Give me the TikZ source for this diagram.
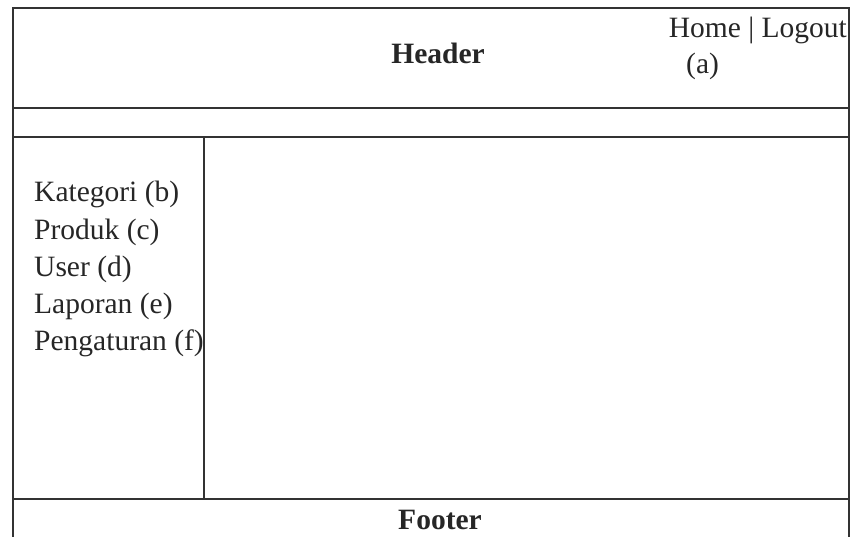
\documentclass[tikz,border=0pt]{standalone}
\usepackage{fontspec}
\setmainfont{Liberation Serif}
\begin{document}
\begin{tikzpicture}[x=1pt,y=-1pt,
  frame/.style={draw=black!80, line width=2pt},
  txt/.style={inner sep=0pt, font=\fontsize{29.5}{36}\selectfont, text=black!85},
  btxt/.style={txt, font=\fontsize{29.5}{36}\selectfont\bfseries}]
\useasboundingbox (0,0) rectangle (850,537);
\fill[white] (0,0) rectangle (850,537);
% outer frame and dividers
\coordinate (tl) at (13,8);
\coordinate (tr) at (849,8);
\coordinate (bl) at (13,537);
\coordinate (br) at (849,537);
\draw[frame] (bl) -- (tl) -- (tr) -- (br);
\draw[frame] (13,108) -- (849,108);
\draw[frame] (13,137) -- (849,137);
\draw[frame] (204,137) -- (204,499);
\draw[frame] (13,499) -- (849,499);
% header
\node[btxt, anchor=base] (header) at (438,64) {Header};
\node[txt, anchor=base east] (nav) at (847,38) {Home | Logout};
\node[txt, anchor=base west] (a) at (686,74) {(a)};
% menu
\node[txt, anchor=base west] (b) at (34,202) {Kategori (b)};
\node[txt, anchor=base west] (c) at (34,239) {Produk (c)};
\node[txt, anchor=base west] (d) at (34,276) {User (d)};
\node[txt, anchor=base west] (e) at (34,313) {Laporan (e)};
\node[txt, anchor=base west] (f) at (34,350) {Pengaturan (f)};
% footer
\node[btxt, anchor=base] (footer) at (440,529) {Footer};
\end{tikzpicture}
\end{document}
